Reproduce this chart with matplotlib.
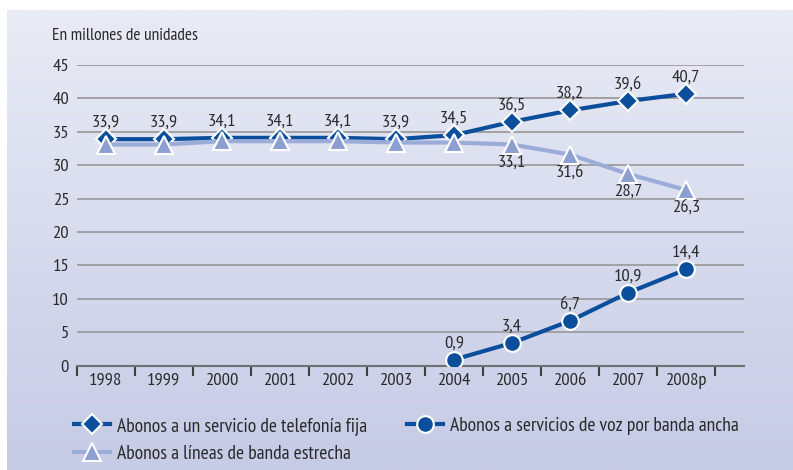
import matplotlib
matplotlib.use("Agg")
import matplotlib.pyplot as plt
import numpy as np
from matplotlib.lines import Line2D
from matplotlib.colors import LinearSegmentedColormap

plt.rcParams['font.family'] = ['PT Sans Narrow', 'DejaVu Sans']

years = ['1998', '1999', '2000', '2001', '2002', '2003', '2004', '2005', '2006', '2007', '2008p']
fija = [33.9, 33.9, 34.1, 34.1, 34.1, 33.9, 34.5, 36.5, 38.2, 39.6, 40.7]
estrecha = [33.1, 33.1, 33.6, 33.6, 33.6, 33.4, 33.4, 33.1, 31.6, 28.7, 26.3]
banda_years = ['2004', '2005', '2006', '2007', '2008p']
banda = [0.9, 3.4, 6.7, 10.9, 14.4]
estrecha_label_from = 7  # labels shown from 2005 on

label_fija = 'Abonos a un servicio de telefonía fija'
label_banda = 'Abonos a servicios de voz por banda ancha'
label_estrecha = 'Abonos a líneas de banda estrecha'

dark = '#0b4f9c'
light_fill = '#8d9fd0'
light_line = '#9cacd8'
text_col = '#2a2a2a'
FS = 13.3
LFS = 14

W, H = 793, 470
fig = plt.figure(figsize=(W / 100, H / 100), dpi=100)
fig.patch.set_facecolor('white')

# gradient panel background
bg = fig.add_axes([7 / W, 0, 1 - 7 / W, 1 - 10 / H])
cmap = LinearSegmentedColormap.from_list('g', ['#e9ebf5', '#c6cbe6'])
bg.imshow(np.linspace(0, 1, 256).reshape(-1, 1), aspect='auto', cmap=cmap,
          extent=[0, 1, 0, 1])
bg.set_axis_off()

ax = fig.add_axes([76.7 / W, 1 - 365.7 / H, (744 - 76.7) / W, (365.7 - 65) / H])
ax.set_facecolor('none')
x = np.arange(len(years))
xb = [years.index(y) for y in banda_years]

ax.set_xlim(-0.5, 11.0)
ax.set_ylim(0, 45)
ax.set_yticks(range(0, 46, 5))
for v in range(5, 46, 5):
    ax.axhline(v, color='#9d9d9f', lw=1.3, zorder=0)

ax.plot(x, fija, color=dark, lw=3, marker='D', ms=10, mfc=dark, mec='white',
        mew=1.5, zorder=3)
ax.plot(x, estrecha, color=light_line, lw=3, marker='^', ms=13, mfc=light_fill,
        mec='white', mew=1.5, zorder=4)
ax.plot(xb, banda, color=dark, lw=3, marker='o', ms=12, mfc=dark, mec='white',
        mew=1.5, zorder=3)

fmt = lambda v: f'{v:.1f}'.replace('.', ',')
for xi, v in zip(x, fija):
    ax.annotate(fmt(v), (xi, v), xytext=(0, 6), textcoords='offset points',
                ha='center', va='bottom', fontsize=FS, color=text_col, zorder=6)
for xi, v in list(zip(x, estrecha))[estrecha_label_from:]:
    ax.annotate(fmt(v), (xi, v), xytext=(0, -7), textcoords='offset points',
                ha='center', va='top', fontsize=FS, color=text_col, zorder=6)
for xi, v in zip(xb, banda):
    ax.annotate(fmt(v), (xi, v), xytext=(0, 6), textcoords='offset points',
                ha='center', va='bottom', fontsize=FS, color=text_col, zorder=6)

for s in ['top', 'right', 'left']:
    ax.spines[s].set_visible(False)
ax.spines['bottom'].set_color('#707070')
ax.spines['bottom'].set_linewidth(1.5)
ax.set_xticks(np.arange(-0.5, 11.0, 1.0))
ax.set_xticklabels([])
ax.set_xticks(x, minor=True)
ax.set_xticklabels(years, minor=True)
ax.tick_params(axis='x', which='major', length=7, width=1.5, color='#404040',
               direction='out')
ax.tick_params(axis='x', which='minor', length=0, pad=5, labelsize=FS,
               labelcolor=text_col)
ax.tick_params(axis='y', length=0, pad=5.5, labelsize=FS, labelcolor=text_col)

fig.text(52 / W, 1 - 36 / H, 'En millones de unidades', fontsize=12.5,
         color=text_col, ha='left', va='center')

h1 = Line2D([], [], color=dark, lw=3, marker='D', ms=10, mfc=dark, mec='white', mew=1.5)
h2 = Line2D([], [], color=dark, lw=3, marker='o', ms=12, mfc=dark, mec='white', mew=1.5)
h3 = Line2D([], [], color=light_line, lw=3, marker='^', ms=13, mfc=light_fill,
            mec='white', mew=1.5)
hl = 36 / (LFS * 100 / 72)
fig.legend([h1, h3], [label_fija, label_estrecha], loc='upper left',
           bbox_to_anchor=(74 / W, 1 - 417 / H), frameon=False, fontsize=LFS,
           handlelength=hl, labelspacing=0.5, handletextpad=0.35,
           borderpad=0, borderaxespad=0, labelcolor=text_col)
fig.legend([h2], [label_banda], loc='upper left',
           bbox_to_anchor=(407 / W, 1 - 417 / H), frameon=False, fontsize=LFS,
           handlelength=hl, handletextpad=0.35, borderpad=0, borderaxespad=0,
           labelcolor=text_col)

fig.savefig('out.png', dpi=100)
